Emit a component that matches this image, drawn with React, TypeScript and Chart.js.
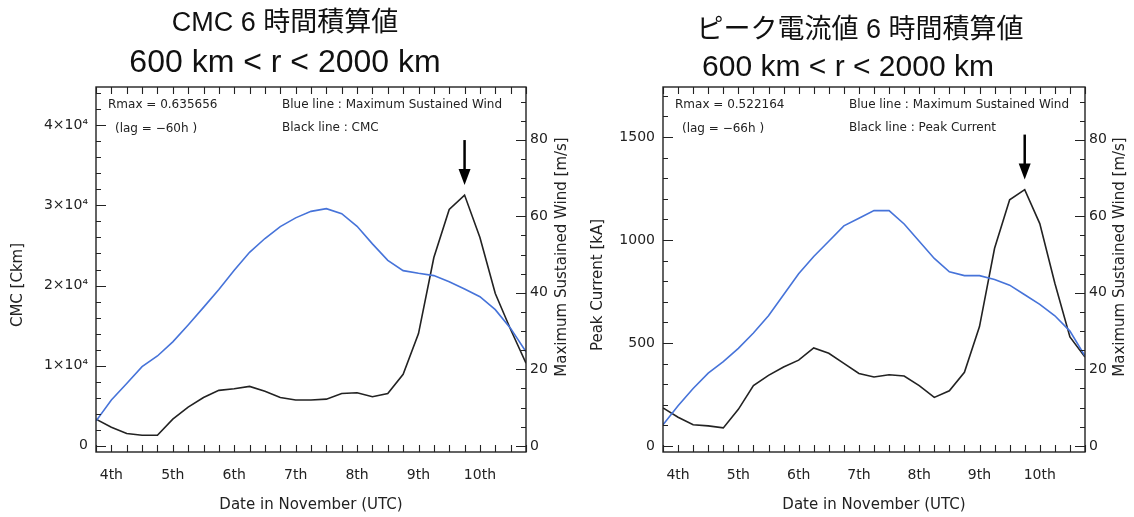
import { useEffect, useRef } from "react";
import { Chart, registerables } from "chart.js";

Chart.register(...registerables);

// 6-hourly analysis times, in days of November (UTC)
const times = [
  3.75, 4.0, 4.25, 4.5, 4.75, 5.0, 5.25, 5.5, 5.75, 6.0, 6.25, 6.5, 6.75, 7.0, 7.25,
  7.5, 7.75, 8.0, 8.25, 8.5, 8.75, 9.0, 9.25, 9.5, 9.75, 10.0, 10.25, 10.5, 10.75,
];

const dayTicks = [4, 5, 6, 7, 8, 9, 10];
const dayLabels = ["4th", "5th", "6th", "7th", "8th", "9th", "10th"];

// CMC, 6-hour integrated [C km]
const cmc = [
  3300, 2300, 1500, 1300, 1300, 3300, 4800, 6000, 6900, 7100, 7400, 6800, 6000, 5700, 5700,
  5800, 6500, 6600, 6100, 6500, 8900, 14000, 23500, 29500, 31300, 26000, 19000, 14500, 10300,
];
// Maximum sustained wind at lag -60 h [m/s]
const windLag60 = [
  6.5, 12, 16.3, 20.7, 23.5, 27.2, 31.6, 36.2, 40.9, 45.9, 50.6, 54.2, 57.3, 59.6, 61.3,
  62, 60.7, 57.4, 52.8, 48.5, 45.8, 45.1, 44.5, 42.9, 41, 39, 35.6, 30.7, 24.6,
];

// Peak current, 6-hour integrated [kA]
const peakCurrent = [
  185, 140, 103, 98, 88, 178, 293, 343, 384, 417, 476, 450, 401, 352, 335,
  346, 340, 293, 236, 268, 358, 580, 960, 1195, 1245, 1080, 790, 530, 432,
];
// Maximum sustained wind at lag -66 h [m/s]
const windLag66 = [
  5.5, 10.5, 15, 19, 22, 25.5, 29.5, 34, 39.5, 45, 49.5, 53.5, 57.5, 59.5, 61.5,
  61.5, 58, 53.5, 49, 45.5, 44.5, 44.5, 43.5, 42, 39.5, 37, 34, 30, 23.5,
];

const cmcTicks = [0, 10000, 20000, 30000, 40000];
const cmcTickLabels = ["0", "1×10⁴", "2×10⁴", "3×10⁴", "4×10⁴"];
const currentTicks = [0, 500, 1000, 1500];
const currentTickLabels = ["0", "500", "1000", "1500"];
const windTicks = [0, 20, 40, 60, 80];
const windTickLabels = ["0", "20", "40", "60", "80"];

const INK = "#222";
const BLUE = "#4673d9";
const FONT = '"DejaVu Sans", sans-serif';
const TITLE_FONT = '"Liberation Sans", "Noto Sans CJK JP", sans-serif';
const W = 567;
const H = 517;
const WIND_TITLE = "Maximum Sustained Wind [m/s]";

type Panel = {
  title: string;
  subtitle: string;
  titleX: number;
  titleY: number;
  subtitleX: number;
  subtitleY: number;
  titleSize: number;
  subtitleSize: number;
  series: number[];
  wind: number[];
  seriesName: string;
  leftTitle: string;
  leftTicks: number[];
  leftTickLabels: string[];
  leftMin: number;
  leftMax: number;
  leftMinor: number;
  leftMajor: number;
  rmax: string;
  lag: string;
  leftWidth: number;
  rightWidth: number;
  leftTitleX: number;
  rightTitleX: number;
  spillX: number | null;
};

const panels: Panel[] = [
  {
    title: "CMC 6 時間積算値",
    subtitle: "600 km < r < 2000 km",
    titleX: 285,
    titleY: 24,
    subtitleX: 285,
    subtitleY: 63,
    titleSize: 27,
    subtitleSize: 32,
    series: cmc,
    wind: windLag60,
    seriesName: "CMC",
    leftTitle: "CMC [Ckm]",
    leftTicks: cmcTicks,
    leftTickLabels: cmcTickLabels,
    leftMin: -800,
    leftMax: 44800,
    leftMinor: 2000,
    leftMajor: 10000,
    rmax: "Rmax = 0.635656",
    lag: "(lag = −60h )",
    leftWidth: 96,
    rightWidth: 41,
    leftTitleX: 18,
    rightTitleX: 562,
    spillX: null,
  },
  {
    title: "ピーク電流値 6 時間積算値",
    subtitle: "600 km < r < 2000 km",
    titleX: 293,
    titleY: 31,
    subtitleX: 281,
    subtitleY: 68,
    titleSize: 27,
    subtitleSize: 30,
    series: peakCurrent,
    wind: windLag66,
    seriesName: "Peak Current",
    leftTitle: "Peak Current [kA]",
    leftTicks: currentTicks,
    leftTickLabels: currentTickLabels,
    leftMin: -29,
    leftMax: 1743,
    leftMinor: 100,
    leftMajor: 500,
    rmax: "Rmax = 0.522164",
    lag: "(lag = −66h )",
    leftWidth: 96,
    rightWidth: 49,
    leftTitleX: 31,
    rightTitleX: 553,
    // the left panel's wind-axis title runs over the seam between the two canvases
    spillX: 562 - W,
  },
];

// Inward tick marks along one side of the frame
function drawTicks(
  ctx: CanvasRenderingContext2D,
  scale: any,
  step: number,
  majorStep: number,
  majorLen: number,
  minorLen: number,
  side: "bottom" | "top" | "left" | "right",
  a: any
) {
  const n0 = Math.ceil(scale.min / step - 1e-9);
  const n1 = Math.floor(scale.max / step + 1e-9);
  ctx.beginPath();
  for (let n = n0; n <= n1; n++) {
    const v = n * step;
    const isMajor = Math.abs(v / majorStep - Math.round(v / majorStep)) < 1e-6;
    const len = isMajor ? majorLen : minorLen;
    const p = Math.round(scale.getPixelForValue(v)) + 0.5;
    if (side === "bottom") {
      ctx.moveTo(p, a.bottom);
      ctx.lineTo(p, a.bottom - len);
    } else if (side === "top") {
      ctx.moveTo(p, a.top);
      ctx.lineTo(p, a.top + len);
    } else if (side === "left") {
      ctx.moveTo(a.left, p);
      ctx.lineTo(a.left + len, p);
    } else {
      ctx.moveTo(a.right, p);
      ctx.lineTo(a.right - len, p);
    }
  }
  ctx.stroke();
}

function rotatedText(ctx: CanvasRenderingContext2D, text: string, x: number, y: number) {
  ctx.save();
  ctx.translate(x, y);
  ctx.rotate(-Math.PI / 2);
  ctx.textAlign = "center";
  ctx.textBaseline = "middle";
  ctx.fillText(text, 0, 0);
  ctx.restore();
}

const idlPlot = {
  id: "idlPlot",
  afterDraw(chart: any, _args: any, p: Panel) {
    const { ctx, chartArea: a, scales } = chart;
    const x = scales.x;
    const yl = scales.yL;
    const yr = scales.yR;
    ctx.save();

    // frame
    ctx.strokeStyle = INK;
    ctx.lineWidth = 1.4;
    ctx.strokeRect(a.left, a.top, a.right - a.left, a.bottom - a.top);

    // tick marks
    ctx.lineWidth = 1.1;
    drawTicks(ctx, x, 0.25, 0.25, 7, 7, "bottom", a);
    drawTicks(ctx, x, 0.25, 0.25, 7, 7, "top", a);
    drawTicks(ctx, yl, p.leftMinor, p.leftMajor, 10, 5, "left", a);
    drawTicks(ctx, yr, 5, 20, 10, 5, "right", a);

    // titles
    ctx.fillStyle = "#111";
    ctx.textAlign = "center";
    ctx.textBaseline = "middle";
    ctx.font = `${p.titleSize}px ${TITLE_FONT}`;
    ctx.fillText(p.title, p.titleX, p.titleY);
    ctx.font = `${p.subtitleSize}px ${TITLE_FONT}`;
    ctx.fillText(p.subtitle, p.subtitleX, p.subtitleY);

    // axis titles
    ctx.fillStyle = INK;
    ctx.font = `15px ${FONT}`;
    rotatedText(ctx, p.leftTitle, p.leftTitleX, 285);
    rotatedText(ctx, WIND_TITLE, p.rightTitleX, 257);
    if (p.spillX !== null) rotatedText(ctx, WIND_TITLE, p.spillX, 257);
    ctx.textAlign = "center";
    ctx.fillText("Date in November (UTC)", (a.left + a.right) / 2, 505);

    // correlation notes
    ctx.font = `12px ${FONT}`;
    ctx.textAlign = "left";
    ctx.textBaseline = "middle";
    ctx.fillText(p.rmax, a.left + 12, a.top + 18);
    ctx.fillText(p.lag, a.left + 19, a.top + 42);
    ctx.fillText("Blue line : Maximum Sustained Wind", a.left + 186, a.top + 18);
    ctx.fillText("Black line : " + p.seriesName, a.left + 186, a.top + 41);

    // arrow above the peak of the black series
    let k = 0;
    p.series.forEach((v, i) => {
      if (v > p.series[k]) k = i;
    });
    const px = x.getPixelForValue(times[k]);
    const py = yl.getPixelForValue(p.series[k]);
    const tip = py - 10;
    ctx.strokeStyle = "#000";
    ctx.fillStyle = "#000";
    ctx.lineWidth = 2.5;
    ctx.beginPath();
    ctx.moveTo(px, tip - 45);
    ctx.lineTo(px, tip - 12);
    ctx.stroke();
    ctx.beginPath();
    ctx.moveTo(px, tip);
    ctx.lineTo(px - 6, tip - 16);
    ctx.lineTo(px + 6, tip - 16);
    ctx.closePath();
    ctx.fill();

    ctx.restore();
  },
};

function buildConfig(p: Panel): any {
  const axisFont = { family: FONT, size: 14 };
  return {
    type: "line",
    data: {
      datasets: [
        {
          label: "Maximum Sustained Wind",
          data: times.map((t, i) => ({ x: t, y: p.wind[i] })),
          yAxisID: "yR",
          borderColor: BLUE,
          borderWidth: 1.6,
          pointRadius: 0,
          tension: 0,
        },
        {
          label: p.seriesName,
          data: times.map((t, i) => ({ x: t, y: p.series[i] })),
          yAxisID: "yL",
          borderColor: INK,
          borderWidth: 1.6,
          pointRadius: 0,
          tension: 0,
        },
      ],
    },
    options: {
      responsive: false,
      animation: false,
      devicePixelRatio: 1,
      layout: { padding: { top: 87, left: 0, right: 0, bottom: 0 } },
      plugins: {
        legend: { display: false },
        tooltip: { enabled: false },
        title: { display: false },
        idlPlot: p,
      },
      scales: {
        x: {
          type: "linear",
          min: 3.75,
          max: 10.75,
          afterBuildTicks: (s: any) => {
            s.ticks = dayTicks.map((v) => ({ value: v }));
          },
          afterFit: (s: any) => {
            s.height = 65;
          },
          ticks: {
            callback: (v: number) => dayLabels[dayTicks.indexOf(v)],
            font: axisFont,
            color: INK,
            padding: 15,
            autoSkip: false,
            maxRotation: 0,
          },
          grid: { display: false, drawTicks: false },
          border: { display: false },
        },
        yL: {
          type: "linear",
          position: "left",
          min: p.leftMin,
          max: p.leftMax,
          afterBuildTicks: (s: any) => {
            s.ticks = p.leftTicks.map((v) => ({ value: v }));
          },
          afterFit: (s: any) => {
            s.width = p.leftWidth;
          },
          ticks: {
            callback: (v: number) => p.leftTickLabels[p.leftTicks.indexOf(v)],
            font: axisFont,
            color: INK,
            padding: 8,
          },
          grid: { display: false, drawTicks: false },
          border: { display: false },
        },
        yR: {
          type: "linear",
          position: "right",
          min: -1.6,
          max: 93.8,
          afterBuildTicks: (s: any) => {
            s.ticks = windTicks.map((v) => ({ value: v }));
          },
          afterFit: (s: any) => {
            s.width = p.rightWidth;
          },
          ticks: {
            callback: (v: number) => windTickLabels[windTicks.indexOf(v)],
            font: axisFont,
            color: INK,
            padding: 4,
          },
          grid: { display: false, drawTicks: false },
          border: { display: false },
        },
      },
    },
    plugins: [idlPlot],
  };
}

function PanelChart({ panel }: { panel: Panel }) {
  const ref = useRef<HTMLCanvasElement>(null);
  useEffect(() => {
    if (!ref.current) return;
    const chart = new Chart(ref.current, buildConfig(panel));
    return () => chart.destroy();
  }, [panel]);
  return (
    <canvas
      ref={ref}
      width={W}
      height={H}
      style={{ display: "block", width: W, height: H }}
    />
  );
}

export default function App() {
  return (
    <div
      style={{
        position: "absolute",
        left: 0,
        top: 0,
        width: W * 2,
        height: H,
        display: "flex",
        background: "#fff",
      }}
    >
      {panels.map((p, i) => (
        <PanelChart key={i} panel={p} />
      ))}
    </div>
  );
}
